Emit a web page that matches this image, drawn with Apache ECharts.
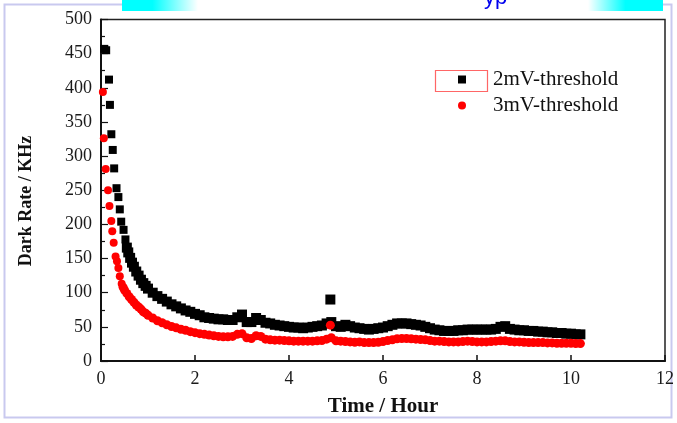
<!DOCTYPE html>
<html>
<head>
<meta charset="utf-8">
<script src="https://cdn.jsdelivr.net/npm/echarts@6/dist/echarts.min.js"></script>
<style>
html,body{margin:0;padding:0;background:#fff;}
#chart{width:677px;height:423px;}
</style>
</head>
<body>
<div id="chart"></div>
<script>
// ---- data ----
var xTicks = [0, 2, 4, 6, 8, 10, 12];
var yTicks = [0, 50, 100, 150, 200, 250, 300, 350, 400, 450, 500];
var seriesNames = ['2mV-threshold', '3mV-threshold'];
var xTitle = 'Time / Hour';
var yTitle = 'Dark Rate / KHz';

var blackTime = [0.07,0.11,0.17,0.19,0.22,0.25,0.28,0.33,0.37,0.40,0.43,0.48,0.52,0.55,0.58,0.62,0.66,0.70,0.75,0.80,0.85,0.90,0.95,1.00,
  1.1,1.2,1.3,1.4,1.5,1.6,1.7,1.8,1.9,2.0,2.1,2.2,2.3,2.4,2.5,2.6,2.7,2.8,2.9,3.0,3.1,3.2,3.3,3.4,3.5,3.6,3.7,3.8,3.9,4.0,
  4.1,4.2,4.3,4.4,4.5,4.6,4.7,4.8,4.88,4.9,5.0,5.1,5.2,5.3,5.4,5.5,5.6,5.7,5.8,5.9,6.0,6.1,6.2,6.3,6.4,6.5,6.6,6.7,6.8,6.9,7.0,
  7.1,7.2,7.3,7.4,7.5,7.6,7.7,7.8,7.9,8.0,8.1,8.2,8.3,8.4,8.5,8.6,8.7,8.8,8.9,9.0,9.1,9.2,9.3,9.4,9.5,9.6,9.7,9.8,9.9,10.0,10.1,10.2];
var blackRate = [457,455,412,375,332,309,282,253,240,222,204,192,178,166,159,151,144,138,131,125,119,114,110,106,
  100,95,91,87,83,80,77,74,72,69,67,64,63,62,61,61,60,60,64,68,57,57,63,60,56,55,53,52,51,50,
  49,49,48,49,50,51,52,55,90,57,51,50,53,51,49,48,47,46,47,48,49,51,53,55,55,55,54,53,52,50,48,
  46,45,44,44,44,45,45,46,46,46,46,46,46,47,50,51,47,46,45,45,44,44,43,43,42,42,41,41,40,40,39,39];

var redTime = [0.04,0.06,0.10,0.15,0.18,0.22,0.24,0.27,0.31,0.34,0.37,0.40,0.44,0.47,0.50,0.55,0.60,0.65,0.70,0.75,0.80,0.85,0.90,0.95,1.00,
  1.1,1.2,1.3,1.4,1.5,1.6,1.7,1.8,1.9,2.0,2.1,2.2,2.3,2.4,2.5,2.6,2.7,2.8,2.9,3.0,3.1,3.2,3.3,3.4,3.5,3.6,3.7,3.8,3.9,4.0,
  4.1,4.2,4.3,4.4,4.5,4.6,4.7,4.8,4.88,4.9,5.0,5.1,5.2,5.3,5.4,5.5,5.6,5.7,5.8,5.9,6.0,6.1,6.2,6.3,6.4,6.5,6.6,6.7,6.8,6.9,7.0,
  7.1,7.2,7.3,7.4,7.5,7.6,7.7,7.8,7.9,8.0,8.1,8.2,8.3,8.4,8.5,8.6,8.7,8.8,8.9,9.0,9.1,9.2,9.3,9.4,9.5,9.6,9.7,9.8,9.9,10.0,10.1,10.2];
var redRate = [394,326,281,250,227,205,190,173,153,146,136,124,113,108,104,99,94,90,86,82,79,76,72,70,67,
  63,59,56,53,50.5,48.5,46.5,45,43,41.5,40,39,38,37,36,35.5,35.5,36,39,40,34,33,37,36,32,31,30.5,30.5,30,29.5,
  29,29,29,29,29,29.5,30,32,52.5,34,29.5,29,28.5,28,27.5,28,27,27,27,27.5,28.5,30,31,32.5,33,33,32.5,32,31.5,31,30,
  29,29,28.5,28,28,28,28.5,29,28.5,28,28,28,28.5,29,29.5,29.5,28.5,28,28,27.5,27,27,27,27,26.5,26.5,26,26,26,26,25.5,25.5];

function pairs(xs, ys) { var out = []; for (var i = 0; i < xs.length; i++) out.push([xs[i], ys[i]]); return out; }

var serif = '"Liberation Serif", "DejaVu Serif", serif';
var chart = echarts.init(document.getElementById('chart'), null, {renderer: 'canvas'});
chart.setOption({
  animation: false,
  backgroundColor: '#fff',
  grid: {left: 101, right: 9, top: 19.5, bottom: 62, show: true, borderColor: '#222', borderWidth: 1.5, backgroundColor: '#fff'},
  xAxis: {
    type: 'value', min: xTicks[0], max: xTicks[xTicks.length - 1], interval: 2,
    name: xTitle, nameLocation: 'middle', nameGap: 35,
    nameTextStyle: {fontFamily: serif, fontWeight: 'bold', fontSize: 21, color: '#111'},
    axisLine: {show: true, onZero: false, lineStyle: {color: '#111', width: 2}},
    axisTick: {show: true, inside: true, length: 6, lineStyle: {color: '#111', width: 1.5}},
    minorTick: {show: false},
    splitLine: {show: false},
    axisLabel: {fontFamily: serif, fontSize: 18, color: '#1a1a1a', margin: 9}
  },
  yAxis: {
    type: 'value', min: yTicks[0], max: yTicks[yTicks.length - 1], interval: 50,
    axisLine: {show: true, onZero: false, lineStyle: {color: '#111', width: 2}},
    axisTick: {show: true, inside: true, length: 7, lineStyle: {color: '#111', width: 1.2}},
    minorTick: {show: true, splitNumber: 2, length: 4, lineStyle: {color: '#111', width: 1.2}},
    splitLine: {show: false},
    axisLabel: {fontFamily: serif, fontSize: 18, color: '#1a1a1a', margin: 9}
  },
  legend: {
    orient: 'vertical', left: 453, top: 64, itemWidth: 8, itemHeight: 8, itemGap: 5,
    textStyle: {fontFamily: serif, fontSize: 21, color: '#111', padding: [0, 0, 0, 22]},
    data: [
      {name: seriesNames[0], icon: 'rect'},
      {name: seriesNames[1], icon: 'circle'}
    ]
  },
  series: [
    {name: seriesNames[0], type: 'scatter', symbol: 'rect',
     symbolSize: function (v) { return v[0] > 0.53 ? 10 : 8; },
     itemStyle: {color: '#000', opacity: 1}, data: pairs(blackTime, blackRate)},
    {name: seriesNames[1], type: 'scatter', symbol: 'circle',
     symbolSize: function (v) { return v[0] > 0.45 ? 9 : 8; },
     itemStyle: {color: '#ff0000', opacity: 1}, data: pairs(redTime, redRate)}
  ],
  graphic: [
    {type: 'rect', shape: {x: 4.5, y: 4.5, width: 667, height: 413}, style: {fill: 'none', stroke: '#c9c9ef', lineWidth: 2}, z: -10, silent: true},
    {type: 'rect', shape: {x: 122, y: 0, width: 541, height: 12}, style: {fill: '#fff'}, z: 1},
    {type: 'rect', shape: {x: 122, y: 0, width: 76, height: 11},
     style: {fill: new echarts.graphic.LinearGradient(0, 0, 1, 0, [{offset: 0, color: '#00ffff'}, {offset: 0.4, color: '#00ffff'}, {offset: 1, color: '#ffffff'}])}, z: 2},
    {type: 'rect', shape: {x: 588, y: 0, width: 75, height: 11},
     style: {fill: new echarts.graphic.LinearGradient(0, 0, 1, 0, [{offset: 0, color: '#ffffff'}, {offset: 0.5, color: '#00ffff'}, {offset: 1, color: '#00ffff'}])}, z: 2},
    {type: 'text', left: 484, top: -13, style: {text: 'yp', fill: '#0000ee', font: '22px "Liberation Sans", sans-serif'}, z: 3},
    {type: 'text', x: 26, y: 201, rotation: Math.PI / 2,
     style: {text: yTitle, fill: '#111', font: 'bold 18px "Liberation Serif", serif', align: 'center', verticalAlign: 'middle'}, z: 5},
    {type: 'rect', shape: {x: 435.5, y: 70.5, width: 52, height: 21}, style: {fill: 'none', stroke: '#ff6666', lineWidth: 1.2}, z: 5}
  ]
});
</script>
</body>
</html>
